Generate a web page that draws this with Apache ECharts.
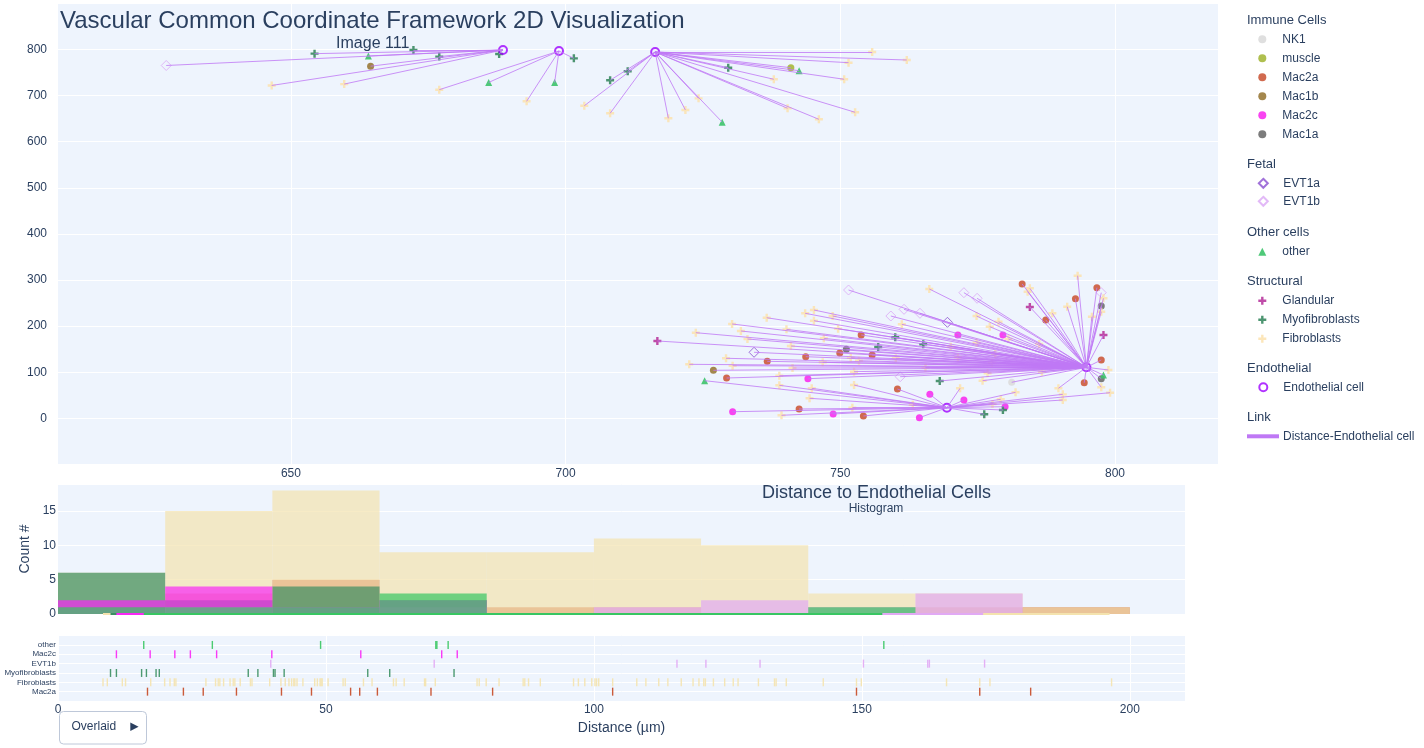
<!DOCTYPE html>
<html><head><meta charset="utf-8">
<script src="https://cdn.jsdelivr.net/npm/echarts@6/dist/echarts.min.js"></script>
<style>html,body{margin:0;padding:0;background:#fff}#c{width:1424px;height:748px}</style>
</head><body><div id="c"></div><script>
// ---------- Scatter data (x, y in µm) ----------
const endothelialCells = [[688.6,799],[698.8,796.7],[716.3,794.6],[794.8,110.6],[769.4,23]];
const nk1Cells = [[781.2,78.1]];
const muscleCells = [[741,760.5]];
const mac2aCells = [[753.8,180.7],[749.9,141.6],[755.8,137.3],[743.7,133.6],[736.7,123.6],[729.3,87.4],[742.5,20.2],[754.2,5],[760.4,63.6],[783.1,291.3],[796.7,283.3],[792.8,259.4],[787.4,213.2],[797.5,126.5],[794.4,77.2]];
const mac1bCells = [[664.5,763.8],[726.9,104.1]];
const mac2cCells = [[744.1,85.9],[730.4,14.3],[748.7,9.3],[771.4,180.7],[779.6,180.7],[766.3,52],[772.5,39.7],[764.4,1.3],[780,25.2]];
const mac1aCells = [[751.1,149.7],[797.5,243.6],[797.5,85.9]];
const evt1aCells = [[734.3,143.2],[769.5,208.2]];
const evt1bCells = [[627.3,765.3],[751.5,278.3],[772.5,272.5],[774.9,260.3],[764.5,227.8],[761.6,236.4],[759.2,221.9],[760.9,90.2],[797.5,272.5]];
const otherCells = [[664.1,786],[686,728.6],[698,728.6],[728.5,642.4],[742.5,754],[725.3,81.6],[797.9,93.9]];
const glandularCells = [[716.7,167.7],[784.5,241.4],[797.9,180.7]];
const myofibroblastCells = [[654.3,791],[672.3,799],[677,784.6],[687.9,790.3],[701.5,780.8],[708.1,733.2],[711.3,752.7],[729.6,760.5],[756.9,154.7],[760,175.7],[765.1,160.5],[768.1,80.9],[776.2,8.7],[779.6,18]];
const fibroblastCells = [
 [646.5,722],[659.7,725],[677,712.8],[692.9,687.6],[703.4,678],[708.1,661.6],[718.7,650.8],[721.8,668.8],[724.2,694],[737.9,735.4],[750.7,735.4],[751.5,771.4],[755.8,794.6],[762.1,777.2],[740.4,672.5],[746.1,648.6],[752.7,663.8],
 [723.7,185.7],[730.3,204.6],[736.6,218.2],[731.9,189.4],[733.1,172],[743.6,227.8],[745.2,234.9],[745.2,211.7],[748.6,221.9],[749.6,194.4],[740.2,193],[747,173.5],[741,156.8],[729.2,130.2],[722.5,117.1],[730.4,114.1],[741.3,109.1],[746.8,121.5],[751.9,131.5],[753.4,125],[752.5,101.1],[738.9,92.4],[738.9,71.6],[744.8,65.1],[744.4,43.4],[752.5,72.2],[739.3,6.5],[752.2,23],
 [766.2,280.5],[761.2,203.9],[774.8,221.9],[778.8,209.5],[777.2,198.7],[780.6,172],[770.1,155.3],[774.8,164],[786.2,161.2],[771.4,132.3],[778.2,139.5],[777.6,120.6],[760.1,130.2],[765.5,109.8],[776.8,97.6],[786.7,101.1],[775.9,81.6],[771.8,65.1],[781.9,56.4],[779.2,41.2],[777.7,31],[763.2,29.5],[790.5,52],[790.5,39.7],[799.1,55.5],[789.7,65.1],
 [793.2,309.3],[784.5,282],[784.1,274.6],[797.9,260.3],[797.5,231.2],[791.3,242.1],[788.6,227.8],[795.8,220.4],[798.8,104.8],[797.5,67.2]];

// ---------- Distance data (µm) for histogram + rug ----------
const rugCategories = ['Mac2a','Fibroblasts','Myofibroblasts','EVT1b','Mac2c','other'];
const distMac2a = [16.7,23.4,27.1,33.3,41.7,47.3,54.6,56.3,59.6,69.6,81.1,103.5,149.0,172.0,181.5];
const distFibroblasts = [8.4,9.2,12.0,12.6,17.3,19.9,20.9,21.7,22.0,27.6,29.4,29.9,30.2,30.9,32.1,32.7,33.0,34.0,35.9,36.2,39.5,
 41.6,42.4,43.1,43.6,44.0,44.2,44.6,45.7,47.9,48.4,48.9,49.1,49.3,50.4,53.2,53.6,57.0,58.6,
 62.6,63.1,64.6,68.4,68.6,70.4,78.2,78.6,79.9,82.3,86.8,87.1,87.8,90.0,96.2,97.1,98.3,99.6,
 100.2,100.5,100.9,103.5,108.0,109.7,112.1,113.8,116.3,118.5,119.6,120.5,120.8,122.3,124.4,126.0,126.9,130.7,133.7,134.0,135.9,
 142.8,149.0,149.9,165.8,172.0,173.9,196.6];
const distMyofibroblasts = [9.8,10.9,15.6,16.5,18.3,18.9,35.5,37.3,40.2,40.5,42.2,57.8,61.9,73.9];
const distEVT1b = [39.7,70.2,115.5,120.9,131.0,150.3,162.3,162.6,172.9];
const distMac2c = [10.9,17.2,21.8,24.7,29.6,39.9,56.5,71.6,74.5];
const distOther = [16.0,28.8,49.0,70.5,70.7,72.8,154.1];
const histBinSize = 20;

const xTicksScatter = [650,700,750,800];

// ---------- Styles ----------
const TXT = '#2a3f5f';
const FONT = 'Liberation Sans, Arial, sans-serif';
const BG = '#eef4fd';
const CROSS = 'path://M35,0H65V35H100V65H65V100H35V65H0V35H35Z';
const distGroups = [
  {name:'Mac2a', data:distMac2a, color:'#c64a26'},
  {name:'Fibroblasts', data:distFibroblasts, color:'#f4e3ae'},
  {name:'Myofibroblasts', data:distMyofibroblasts, color:'#3b8f62'},
  {name:'EVT1b', data:distEVT1b, color:'#e1a9f4'},
  {name:'Mac2c', data:distMac2c, color:'#fa26f6'},
  {name:'other', data:distOther, color:'#38c662'}
];

// nearest endothelial cell links
const nonEndo = [nk1Cells,muscleCells,mac2aCells,mac1bCells,mac2cCells,mac1aCells,evt1aCells,evt1bCells,otherCells,glandularCells,myofibroblastCells,fibroblastCells];
const links = [];
nonEndo.forEach(arr => arr.forEach(p => {
  let best = null, bd = Infinity;
  endothelialCells.forEach(e => { const d = Math.hypot(p[0]-e[0], p[1]-e[1]); if (d < bd) { bd = d; best = e; } });
  links.push({coords:[p, best]});
}));

function binCounts(arr) {
  const m = {};
  arr.forEach(v => { const b = Math.floor(v / histBinSize); m[b] = (m[b] || 0) + 1; });
  return Object.keys(m).map(k => [ +k * histBinSize, (+k + 1) * histBinSize, m[k] ]);
}
function kde(arr) {
  const n = arr.length, mean = arr.reduce((a,b)=>a+b,0)/n;
  const sd = Math.sqrt(arr.reduce((a,b)=>a+(b-mean)*(b-mean),0)/(n-1));
  const h = sd * Math.pow(n, -0.2);
  const lo = Math.min(...arr), hi = Math.max(...arr), out = [];
  for (let i = 0; i < 500; i++) {
    const x = lo + i * (hi - lo) / 500;
    let s = 0; arr.forEach(v => { const z = (x - v) / h; s += Math.exp(-0.5*z*z); });
    out.push([x, s / (n * h * Math.sqrt(2*Math.PI))]);
  }
  return out;
}

function sc(name, data, symbol, size, color, hollow, bw, op) {
  return {type:'scatter', name, data, xAxisIndex:0, yAxisIndex:0, symbol, symbolSize:size, symbolKeepAspect:true, silent:true, z:2,
    itemStyle: hollow ? {color:'rgba(0,0,0,0)', borderColor:color, borderWidth:bw} : {color, opacity: op || 0.9}};
}

const series = [
  sc('NK1', nk1Cells, 'circle', 7, '#dcdcdc'),
  sc('muscle', muscleCells, 'circle', 7, '#a6b83c'),
  sc('Mac2a', mac2aCells, 'circle', 7, '#cc5a3c'),
  sc('Mac1b', mac1bCells, 'circle', 7, '#9a7a3a'),
  sc('Mac2c', mac2cCells, 'circle', 7, '#f830f0'),
  sc('Mac1a', mac1aCells, 'circle', 7, '#6e6e6e'),
  sc('EVT1a', evt1aCells, 'diamond', 10, '#8a4fd0', true, 1),
  sc('EVT1b', evt1bCells, 'diamond', 10, '#dba8f5', true, 1),
  sc('other', otherCells, 'triangle', 7, '#3cc36a'),
  sc('Glandular', glandularCells, CROSS, 8, '#b8389f'),
  sc('Myofibroblasts', myofibroblastCells, CROSS, 8, '#3a8a62'),
  sc('Fibroblasts', fibroblastCells, CROSS, 8, '#fbe2ae', false, 0, 0.85),
  sc('Endothelial cell', endothelialCells, 'circle', 8, '#9d00ff', true, 2),
  {type:'lines', name:'Distance-Endothelial cell', coordinateSystem:'cartesian2d', xAxisIndex:0, yAxisIndex:0,
   data: links, lineStyle:{color:'#bf78f5', width:1, opacity:0.8}, silent:true, z:3}
];

distGroups.forEach(g => {
  series.push({type:'custom', name:'hist-'+g.name, coordinateSystem:'cartesian2d', xAxisIndex:1, yAxisIndex:1,
    data: binCounts(g.data), encode:{x:[0,1], y:2}, silent:true, z:2,
    renderItem: (params, api) => {
      const p0 = api.coord([api.value(0), api.value(2)]);
      const p1 = api.coord([api.value(1), 0]);
      return {type:'rect', shape:{x:p0[0], y:p0[1], width:p1[0]-p0[0], height:p1[1]-p0[1]}, style:{fill:g.color, opacity:0.7}};
    }});
});
distGroups.forEach(g => {
  series.push({type:'line', name:'kde-'+g.name, xAxisIndex:1, yAxisIndex:1, data:kde(g.data), showSymbol:false, silent:true, z:3,
    lineStyle:{color:g.color, width:2}, itemStyle:{color:g.color}});
});
distGroups.forEach((g, i) => {
  series.push({type:'scatter', name:'rug-'+g.name, xAxisIndex:2, yAxisIndex:2, data:g.data.map(v => [v, i]),
    symbol:'rect', symbolSize:[1.4, 8], silent:true, itemStyle:{color:g.color, opacity:0.9}});
});

const legendBase = {orient:'vertical', left:1258.3, padding:0, itemWidth:30, itemHeight:8, itemGap:7, symbolKeepAspect:true,
  textStyle:{fontSize:12, color:TXT, fontFamily:FONT}, selectedMode:false};
const legendSquare = {itemWidth:9, itemHeight:9, itemGap:6, textStyle:{fontSize:12, color:TXT, fontFamily:FONT, padding:[0,0,0,10.5]}};
const groupTitles = [['Immune Cells',20.7],['Fetal',164.7],['Other cells',232.3],['Structural',281.7],['Endothelial',368.3],['Link',417.3]];

const axisLbl = {color:TXT, fontSize:12, fontFamily:FONT};
const option = {
  animation:false,
  backgroundColor:'#fff',
  textStyle:{fontFamily:FONT},
  grid:[
    {left:58, top:3.4, width:1160, height:461, show:true, backgroundColor:BG, borderWidth:0},
    {left:58, top:484.2, width:1127, height:129.8, show:true, backgroundColor:BG, borderWidth:0},
    {left:58, top:635.6, width:1127, height:65.4, show:true, backgroundColor:BG, borderWidth:0}
  ],
  xAxis:[
    {gridIndex:0, type:'value', min:607.6, max:818.75, axisLine:{show:false},
     axisTick:{show:false, customValues:xTicksScatter},
     axisLabel:Object.assign({customValues:xTicksScatter, margin:3}, axisLbl),
     splitLine:{show:true, lineStyle:{color:'#fff', width:1}}},
    {gridIndex:1, type:'value', min:0, max:210.3, interval:50, axisLine:{show:false}, axisTick:{show:false},
     axisLabel:{show:false}, splitLine:{show:false}},
    {gridIndex:2, type:'value', min:0, max:210.3, interval:50, axisLine:{show:false}, axisTick:{show:false},
     axisLabel:Object.assign({margin:3, showMaxLabel:false}, axisLbl),
     splitLine:{show:true, lineStyle:{color:'#fff', width:1}},
     name:'Distance (µm)', nameLocation:'middle', nameGap:20, nameTextStyle:{color:TXT, fontSize:14, fontFamily:FONT}}
  ],
  yAxis:[
    {gridIndex:0, type:'value', min:-100, max:900, interval:100, axisLine:{show:false}, axisTick:{show:false},
     axisLabel:Object.assign({margin:11, showMinLabel:false, showMaxLabel:false}, axisLbl),
     splitLine:{show:true, lineStyle:{color:'#fff', width:1}}},
    {gridIndex:1, type:'value', min:0, max:18.9, interval:5, axisLine:{show:false}, axisTick:{show:false},
     axisLabel:Object.assign({margin:2, showMaxLabel:false}, axisLbl),
     splitLine:{show:true, lineStyle:{color:'#fff', width:1}}},
    {gridIndex:2, type:'value', min:-1, max:6, interval:1, axisLine:{show:false}, axisTick:{show:false},
     axisLabel:{margin:2, color:TXT, fontSize:8, fontFamily:FONT, formatter: v => (v >= 0 && v < rugCategories.length) ? rugCategories[v] : ''},
     splitLine:{show:true, lineStyle:{color:'#fff', width:1}}}
  ],
  legend:[
    Object.assign({}, legendBase, {top:33.3, data:['NK1','muscle','Mac2a','Mac1b','Mac2c','Mac1a']}),
    Object.assign({}, legendBase, legendSquare, {left:1257.8, top:177.3, data:['EVT1a','EVT1b']}),
    Object.assign({}, legendBase, legendSquare, {left:1258.3, top:245.7, itemWidth:8, itemHeight:8, textStyle:{fontSize:12, color:TXT, fontFamily:FONT, padding:[0,0,0,11]}, data:['other']}),
    Object.assign({}, legendBase, {top:294.7, data:['Glandular','Myofibroblasts','Fibroblasts']}),
    Object.assign({}, legendBase, {top:381.3, data:['Endothelial cell']}),
    Object.assign({}, legendBase, {left:1247, top:430.3, itemHeight:2, data:[{name:'Distance-Endothelial cell', icon:'rect', itemStyle:{color:'#d9a6f8'}}]})
  ],
  graphic:[
    {type:'text', x:60, y:21, z:50, style:{text:'Vascular Common Coordinate Framework 2D Visualization', font:'24px '+FONT, fill:TXT, align:'left', verticalAlign:'middle'}},
    {type:'text', x:372.7, y:43.7, z:50, style:{text:'Image 111', font:'16px '+FONT, fill:TXT, align:'center', verticalAlign:'middle'}},
    {type:'text', x:876.5, y:492.7, z:50, style:{text:'Distance to Endothelial Cells', font:'18px '+FONT, fill:TXT, align:'center', verticalAlign:'middle'}},
    {type:'text', x:876, y:509, z:50, style:{text:'Histogram', font:'12px '+FONT, fill:TXT, align:'center', verticalAlign:'middle'}},
    {type:'text', x:25, y:549, rotation:Math.PI/2, z:50, style:{text:'Count #', font:'14px '+FONT, fill:TXT, align:'center', verticalAlign:'middle'}},
    {type:'rect', shape:{x:59.5, y:711.5, width:87, height:32.5, r:4}, z:50, style:{fill:'#fff', stroke:'#bec8d9', lineWidth:1}},
    {type:'text', x:71.5, y:727, z:51, style:{text:'Overlaid', font:'12px '+FONT, fill:TXT, align:'left', verticalAlign:'middle'}},
    {type:'polygon', shape:{points:[[130.3,722.5],[138.6,726.7],[130.3,730.9]]}, z:51, style:{fill:TXT}}
  ].concat(groupTitles.map(t => ({type:'text', x:1247, y:t[1], z:50, style:{text:t[0], font:'13px '+FONT, fill:TXT, align:'left', verticalAlign:'middle'}}))),
  series
};
const chart = echarts.init(document.getElementById('c'), null, {renderer:'canvas'});
chart.setOption(option);
</script></body></html>
